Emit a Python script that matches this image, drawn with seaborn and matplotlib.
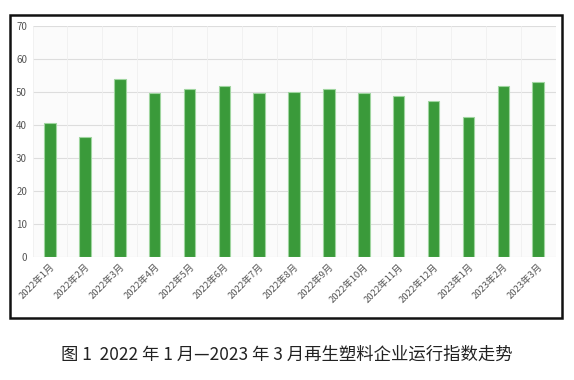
import pandas as pd
import seaborn as sns
import matplotlib.pyplot as plt
from matplotlib.patches import Rectangle

# month labels and index values
months = ['2022年1月', '2022年2月', '2022年3月', '2022年4月', '2022年5月',
          '2022年6月', '2022年7月', '2022年8月', '2022年9月', '2022年10月',
          '2022年11月', '2022年12月', '2023年1月', '2023年2月', '2023年3月']
values = [40.5, 36.5, 53.8, 49.6, 50.8, 51.7, 49.6, 50.0, 50.9, 49.7,
          48.8, 47.3, 42.3, 51.9, 52.9]
yticks = [0, 10, 20, 30, 40, 50, 60, 70]

sns.set_theme(style='white')
plt.rcParams['font.family'] = ['Noto Sans CJK SC', 'DejaVu Sans']

df = pd.DataFrame({'month': months, 'value': values})

fig = plt.figure(figsize=(5.74, 3.8), dpi=100)
ax = fig.add_axes([0.0568, 0.3237, 0.9112, 0.6079])
ax.set_facecolor('#fbfbfb')

sns.barplot(data=df, x='month', y='value', color='#3a9a3a', width=0.33,
            edgecolor='#9fd59f', linewidth=0.8, saturation=1, ax=ax, zorder=3)

ax.set_xlim(-0.5, len(months) - 0.5)
ax.set_ylim(0, 70)
ax.set_yticks(yticks)
ax.set_yticklabels([str(t) for t in yticks], fontsize=7, color='#555555')
ax.set_xticks(range(len(months)))
ax.set_xticklabels(months, rotation=45, ha='right', rotation_mode='anchor',
                   fontsize=6.8, color='#555555')
ax.tick_params(axis='both', length=0, pad=4)
ax.set_xlabel('')
ax.set_ylabel('')

# horizontal grid and faint vertical separators
for t in yticks:
    ax.axhline(t, color='#dddddd', linewidth=0.8, zorder=1)
for i in range(len(months) + 1):
    ax.axvline(i - 0.5, color='#f0f0f0', linewidth=0.6, zorder=1)
for s in ax.spines.values():
    s.set_visible(False)

# outer black frame
fig.patches.append(Rectangle((0.0174, 0.163), 0.9617, 0.7975, transform=fig.transFigure,
                             fill=False, edgecolor='#111111', linewidth=1.8))

fig.text(0.5, 0.066, '图 1  2022 年 1 月—2023 年 3 月再生塑料企业运行指数走势',
         ha='center', va='center', fontsize=12.5, color='#222222')

fig.savefig('out.png', dpi=100)
